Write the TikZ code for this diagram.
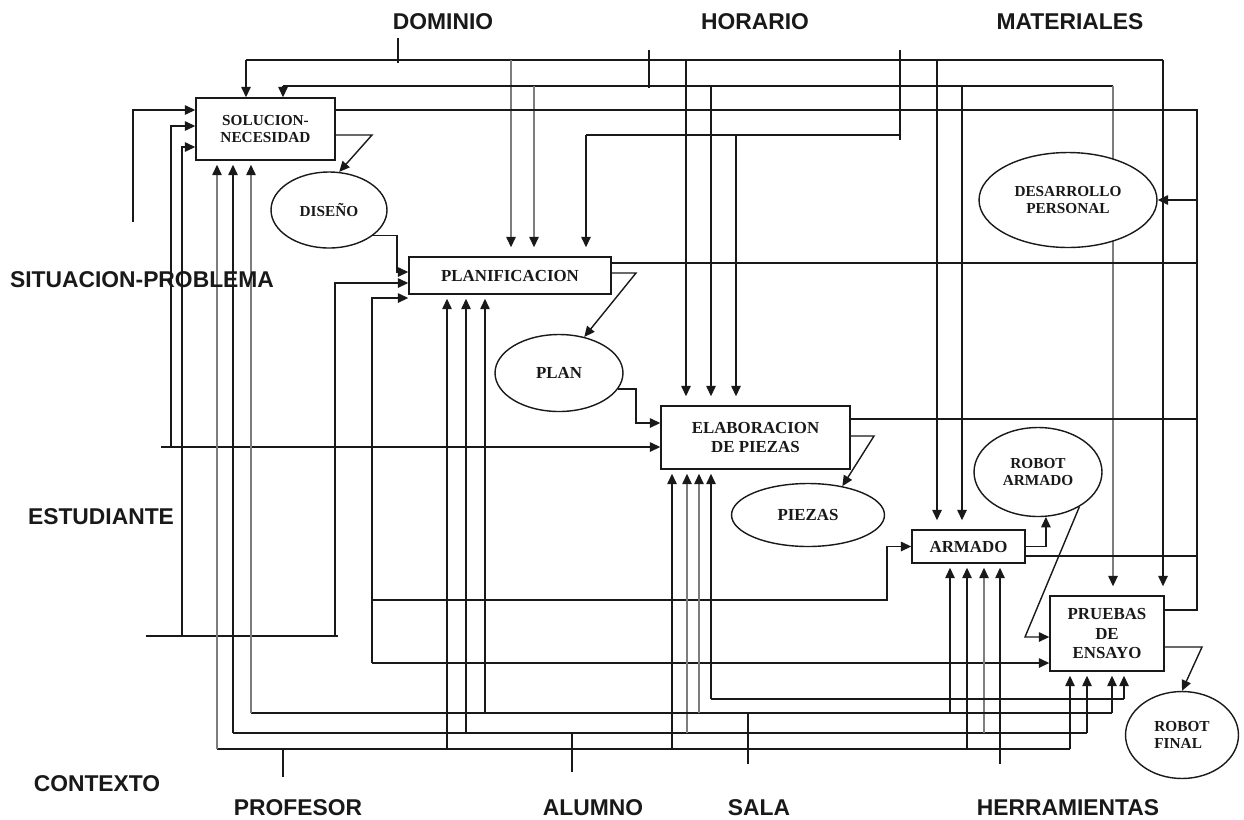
\documentclass[tikz,border=0pt]{standalone}
\usepackage{fontspec}
\setmainfont{Liberation Serif}
\setsansfont{Liberation Sans}
\usepackage{xcolor}
\usepackage{tikz}
\usetikzlibrary{arrows.meta,shapes.geometric,backgrounds}
\definecolor{figline}{RGB}{25,25,25}
\definecolor{figgrey}{RGB}{125,125,125}
\tikzset{
  sc/.style   ={draw=figline, line width=0.8pt},
  scg/.style  ={draw=figgrey, line width=0.8pt},
  ptr/.style  ={sc, -{Triangle[length=0.21cm,width=0.19cm,color=figline]}},
  ptrg/.style ={scg, -{Triangle[length=0.21cm,width=0.19cm,color=figline]}},
  ptrd/.style ={ptr, shorten >=0.18cm},
  ptrdg/.style={ptrg, shorten >=0.18cm},
  ptru/.style ={ptr, shorten >=0.08cm},
  ptrug/.style={ptrg, shorten >=0.08cm},
  proc/.style ={sc, rectangle, fill=white, inner sep=0pt, align=center, text=figline,
                font=\fontsize{9.6}{11}\selectfont\bfseries},
  prod/.style ={sc, ellipse, fill=white, inner sep=0pt, align=center, text=figline,
                font=\fontsize{9.6}{11}\selectfont\bfseries},
  fsm/.style  ={font=\fontsize{8.7}{10}\selectfont\bfseries},
  lab/.style  ={font=\fontsize{13}{15}\selectfont\sffamily\bfseries, inner sep=1pt, text=figline},
}
\begin{document}
\begin{tikzpicture}[x=0.02cm,y=-0.02cm]
  \useasboundingbox (0,0) rectangle (1244,819);
  \node[lab] (dom) at (443,22) {DOMINIO};
  \node[lab] (hor) at (755,22) {HORARIO};
  \node[lab] (mat) at (1070,22) {MATERIALES};
  \node[lab] (sit) at (142,280) {SITUACION-PROBLEMA};
  \node[lab] (est) at (101,517) {ESTUDIANTE};
  \node[lab] (con) at (97,784) {CONTEXTO};
  \node[lab] (pro) at (298,808) {PROFESOR};
  \node[lab] (alu) at (593,808) {ALUMNO};
  \node[lab] (sal) at (759,808) {SALA};
  \node[lab] (her) at (1068,808) {HERRAMIENTAS};
  \node[proc,fsm,minimum width=2.78cm,minimum height=1.24cm] (sol) at (265.5,129) {SOLUCION-\\NECESIDAD};
  \node[prod,fsm,minimum width=2.32cm,minimum height=1.52cm] (dis) at (329,210) {DISEÑO};
  \node[proc,minimum width=4.04cm,minimum height=0.74cm] (pla) at (510,275.5) {PLANIFICACION};
  \node[prod,minimum width=2.56cm,minimum height=1.54cm] (plan) at (559,373) {PLAN};
  \node[proc,minimum width=3.78cm,minimum height=1.26cm] (ela) at (755.5,437.5) {ELABORACION\\DE PIEZAS};
  \node[prod,minimum width=3.06cm,minimum height=1.26cm] (pie) at (808,515) {PIEZAS};
  \node[prod,fsm,minimum width=2.56cm,minimum height=1.78cm] (rar) at (1038,472) {ROBOT\\ARMADO};
  \node[proc,minimum width=2.26cm,minimum height=0.66cm] (arm) at (968.5,546.5) {ARMADO};
  \node[proc,minimum width=2.28cm,minimum height=1.5cm] (pru) at (1107,633.5) {PRUEBAS\\DE\\ENSAYO};
  \node[prod,fsm,align=left,minimum width=2.26cm,minimum height=1.74cm] (rfi) at (1182,735) {ROBOT\\FINAL};
  \node[prod,fsm,minimum width=3.56cm,minimum height=1.9cm] (des) at (1068,200) {DESARROLLO\\PERSONAL};
  \begin{scope}[on background layer]
  \draw[sc] (398,38) -- (398,63);
  \draw[sc] (246,60) -- (1163,60);
  \draw[ptr] (246,60) -- (sol.north -| 246,0);
  \draw[ptrdg] (511,60) -- (pla.north -| 511,0);
  \draw[ptrd] (686,60) -- (ela.north -| 686,0);
  \draw[ptrd] (937,60) -- (arm.north -| 937,0);
  \draw[ptrd] (1163,60) -- (pru.north -| 1163,0);
  \draw[sc] (649,50) -- (649,88);
  \draw[sc] (283,86) -- (1113,86);
  \draw[ptr] (283,86) -- (sol.north -| 283,0);
  \draw[ptrdg] (534,86) -- (pla.north -| 534,0);
  \draw[ptrd] (711,86) -- (ela.north -| 711,0);
  \draw[ptrd] (962,86) -- (arm.north -| 962,0);
  \draw[ptrdg] (1113,86) -- (pru.north -| 1113,0);
  \draw[sc] (900,50) -- (900,140);
  \draw[sc] (586,135) -- (900,135);
  \draw[ptrd] (586,135) -- (pla.north -| 586,0);
  \draw[ptrd] (736,135) -- (ela.north -| 736,0);
  \draw[sc] (sol.east |- 0,110) -- (1197,110) -- (1197,610) -- (pru.east |- 0,610);
  \draw[sc] (pla.east |- 0,263) -- (1197,263);
  \draw[sc] (ela.east |- 0,419) -- (1197,419);
  \draw[sc] (arm.east |- 0,556) -- (1197,556);
  \draw[ptr] (des.east -| 1197,0) -- (des.east);
  \draw[ptr] (133,222) |- (sol.west |- 0,110);
  \draw[ptr] (161,447) -- (ela.west |- 0,447);
  \draw[ptr] (171,447) |- (sol.west |- 0,126);
  \draw[sc] (146,636) -- (338,636);
  \draw[ptr] (182,636) |- (sol.west |- 0,147);
  \draw[ptr] (335,636) |- (pla.west |- 0,283);
  \draw[ptr] (372,663) |- (pla.west |- 0,298);
  \draw[ptr] (372,663) -- (pru.west |- 0,663);
  \draw[ptr] (372,600) -- (887,600) |- (arm.west);
  \draw[ptr] (sol.east |- 0,135) -- (372,135) -- (dis.75);
  \draw[ptr] (dis.-30) -| (397,250) |- (pla.west |- 0,272);
  \draw[ptr] (pla.east |- 0,273) -- (636,273) -- (plan.55);
  \draw[ptr] (plan.-15) -| (636,400) |- (ela.west |- 0,423);
  \draw[ptr] (ela.east |- 0,436) -- (874,436) -- (pie.40);
  \draw[ptr] (arm.east) -| (rar.-80);
  \draw[ptr] (rar.-40) -- (1025,637) -- (pru.west |- 0,637);
  \draw[ptr] (pru.east |- 0,647) -- (1202,647) -- (rfi.north);
  \draw[sc] (283,749) -- (283,777);
  \draw[sc] (217,749) -- (1070,749);
  \draw[ptrug] (217,749) -- (sol.south -| 217,0);
  \draw[ptru] (447,749) -- (pla.south -| 447,0);
  \draw[ptru] (672,749) -- (ela.south -| 672,0);
  \draw[ptru] (967,749) -- (arm.south -| 967,0);
  \draw[ptru] (1070,749) -- (pru.south -| 1070,0);
  \draw[sc] (572,733) -- (572,772);
  \draw[sc] (233,733) -- (1087,733);
  \draw[ptru] (233,733) -- (sol.south -| 233,0);
  \draw[ptru] (466,733) -- (pla.south -| 466,0);
  \draw[ptrug] (687,733) -- (ela.south -| 687,0);
  \draw[ptrug] (984,733) -- (arm.south -| 984,0);
  \draw[ptru] (1087,733) -- (pru.south -| 1087,0);
  \draw[sc] (748,713) -- (748,764);
  \draw[sc] (251,713) -- (1112,713);
  \draw[ptrug] (251,713) -- (sol.south -| 251,0);
  \draw[ptru] (485,713) -- (pla.south -| 485,0);
  \draw[ptrug] (699,713) -- (ela.south -| 699,0);
  \draw[ptru] (950,713) -- (arm.south -| 950,0);
  \draw[ptru] (1112,713) -- (pru.south -| 1112,0);
  \draw[sc] (711,699) -- (1124,699);
  \draw[ptru] (711,699) -- (ela.south -| 711,0);
  \draw[ptru] (1124,699) -- (pru.south -| 1124,0);
  \draw[ptru] (1000,764) -- (arm.south -| 1000,0);
  \end{scope}
\end{tikzpicture}
\end{document}
